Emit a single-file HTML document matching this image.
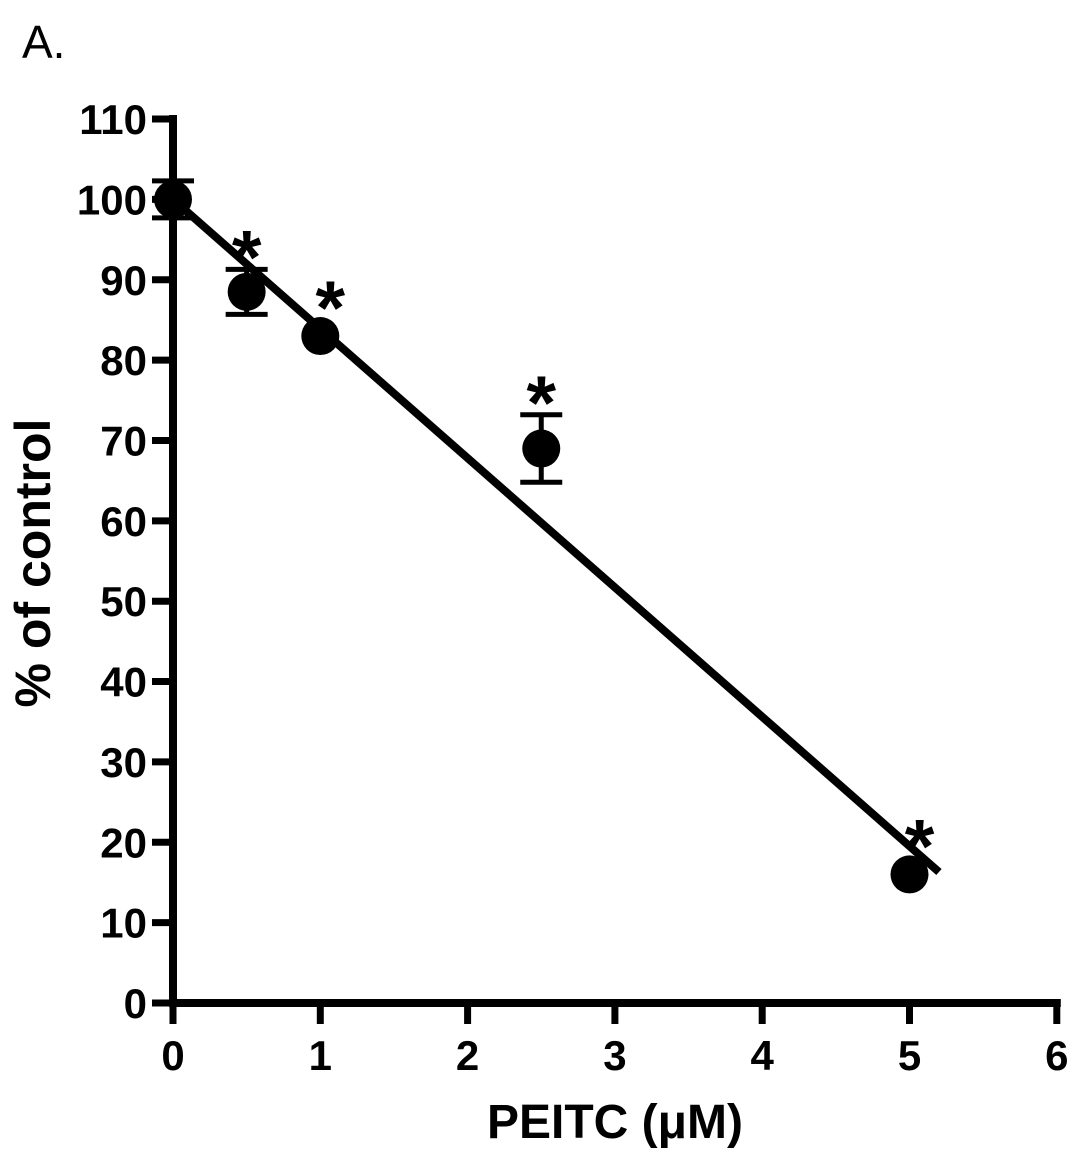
<!DOCTYPE html>
<html><head><meta charset="utf-8"><style>
html,body{margin:0;padding:0;background:#fff;}
svg{display:block;font-family:"Liberation Sans",Arial,sans-serif;}
</style></head><body>
<svg id="chart" width="1087" height="1160" viewBox="0 0 1087 1160" xmlns="http://www.w3.org/2000/svg">
<text x="22" y="58" font-size="46">A.</text>
<g id="axes"></g>
<g id="marks"></g>
<text x="615" y="1138" font-size="48" font-weight="bold" text-anchor="middle">PEITC (μM)</text>
<text transform="translate(50,563) rotate(-90)" font-size="50" font-weight="bold" text-anchor="middle">% of control</text>
</svg>
<script>
const xValues=[0,0.5,1,2.5,5];
const yValues=[100,88.5,83,69,16];
const yErrors=[2.3,2.8,0,4.2,0];
const significant=[false,true,true,true,true];
const fitStart=[0,100];
const fitEnd=[5.2,16.3];
const xTicks=[0,1,2,3,4,5,6];
const yTicks=[0,10,20,30,40,50,60,70,80,90,100,110];

const NS="http://www.w3.org/2000/svg";
const X0=173,XS=147.3,Y0=1003,YS=8.036;
const sx=v=>X0+v*XS, sy=v=>Y0-v*YS;
function mk(tag,attrs,parent){const e=document.createElementNS(NS,tag);for(const k in attrs)e.setAttribute(k,attrs[k]);parent.appendChild(e);return e;}
const axes=document.getElementById('axes'),marks=document.getElementById('marks');

let e=mk('line',{x1:sx(0),y1:sy(110)-4,x2:sx(0),y2:sy(0)+4,stroke:'#000','stroke-width':8},axes);


e=mk('line',{x1:sx(0)-4,y1:sy(0),x2:sx(6)+4,y2:sy(0),stroke:'#000','stroke-width':8},axes);


yTicks.forEach(t=>{
  let l=mk('line',{x1:sx(0)-21,y1:sy(t),x2:sx(0),y2:sy(t),stroke:'#000','stroke-width':7},axes);
  
  
  let tx=mk('text',{x:sx(0)-26,y:sy(t)+15,'font-size':42,'font-weight':'bold','text-anchor':'end'},axes);
  tx.textContent=t;
  
  
});
xTicks.forEach(t=>{
  let l=mk('line',{x1:sx(t),y1:sy(0),x2:sx(t),y2:sy(0)+21,stroke:'#000','stroke-width':7},axes);
  
  
  let tx=mk('text',{x:sx(t),y:sy(0)+67,'font-size':42,'font-weight':'bold','text-anchor':'middle'},axes);
  tx.textContent=t;
  
  
});
e=mk('line',{x1:sx(fitStart[0]),y1:sy(fitStart[1]),x2:sx(fitEnd[0]),y2:sy(fitEnd[1]),stroke:'#000','stroke-width':8},marks);


xValues.forEach((x,i)=>{
  const cx=sx(x),cy=sy(yValues[i]);
  if(yErrors[i]>0){
    const t=sy(yValues[i]+yErrors[i]),b=sy(yValues[i]-yErrors[i]);
    let g=mk('path',{d:`M${cx},${t}V${b}M${cx-21},${t}H${cx+21}M${cx-21},${b}H${cx+21}`,stroke:'#000','stroke-width':5,fill:'none'},marks);
    
    
  }
  let c=mk('circle',{cx:cx,cy:cy,r:19,fill:'#000'},marks);
  
  
  if(significant[i]){
    const hasErr=yErrors[i]>0;
    const top=hasErr?sy(yValues[i]+yErrors[i]):cy-18;
    const centerY=top-(hasErr?20:18);
    let s=mk('text',{x:cx+(hasErr?0:10),y:centerY+34,'font-size':76,'font-weight':'bold','text-anchor':'middle'},marks);
    s.textContent='*';
    
    
  }
});
</script>
</body></html>
